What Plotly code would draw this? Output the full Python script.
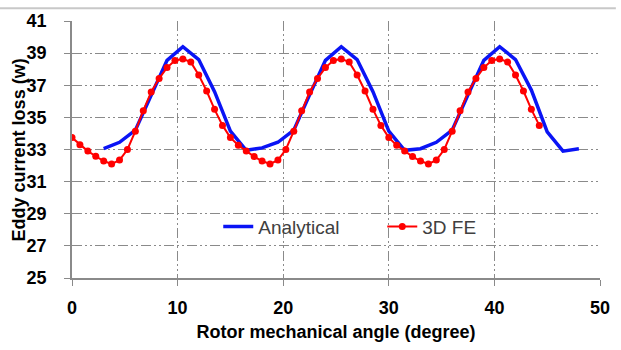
import plotly.graph_objects as go

# ---- data ----
fe_angle = [i * 0.75 for i in range(60)]
fe_loss = [
    33.74, 33.30, 32.90, 32.58, 32.28, 32.10, 32.34, 33.00, 34.14, 35.42,
    36.58, 37.42, 38.10, 38.54, 38.64, 38.44, 37.64, 36.64, 35.50, 34.50,
    33.74, 33.26, 32.90, 32.56, 32.28, 32.10, 32.34, 33.00, 34.14, 35.42,
    36.58, 37.42, 38.10, 38.54, 38.64, 38.44, 37.64, 36.64, 35.50, 34.50,
    33.74, 33.26, 32.90, 32.56, 32.28, 32.10, 32.34, 33.00, 34.14, 35.42,
    36.58, 37.42, 38.10, 38.54, 38.64, 38.44, 37.64, 36.64, 35.50, 34.50,
]
an_angle = [3 + i * 1.5 for i in range(31)]
an_loss = [
    33.05, 33.45, 34.20, 36.40, 38.55, 39.40, 38.60, 36.60, 34.15, 32.95,
    33.10, 33.45, 34.20, 36.40, 38.55, 39.40, 38.60, 36.60, 34.15, 32.95,
    33.05, 33.45, 34.20, 36.40, 38.55, 39.40, 38.60, 36.70, 34.10, 32.90,
    33.05,
]
x_ticks = [0, 10, 20, 30, 40, 50]
y_ticks = [25, 27, 29, 31, 33, 35, 37, 39, 41]

FONT = "Liberation Sans, Arial, sans-serif"
GRID = "#8a8a8a"
DASH = "10px,3px,2px,3px,2px,3px"

fig = go.Figure()
fig.add_trace(go.Scatter(
    x=an_angle, y=an_loss, mode="lines", name="Analytical",
    line=dict(color="#0a14f5", width=3.5),
))
fig.add_trace(go.Scatter(
    x=fe_angle, y=fe_loss, mode="lines+markers", name="3D FE",
    line=dict(color="#ff0000", width=2),
    marker=dict(color="#ff0000", size=7),
))

fig.update_layout(
    width=621, height=350,
    margin=dict(l=72, r=11, t=14, b=72),
    paper_bgcolor="white", plot_bgcolor="white",
    font=dict(family=FONT, color="#000000"),
    showlegend=True,
    legend=dict(
        orientation="h", x=0.277, xanchor="left", y=0.2, yanchor="middle",
        bgcolor="rgba(0,0,0,0)", entrywidth=119,
        font=dict(size=19, color="#404040", family=FONT),
    ),
    xaxis=dict(
        range=[0, 50], tickvals=x_ticks, showgrid=True, gridcolor=GRID,
        griddash=DASH, gridwidth=1, zeroline=False,
        showline=True, linecolor=GRID, linewidth=1.5,
        ticks="outside", ticklen=6, tickcolor=GRID, ticklabelstandoff=7,
        tickfont=dict(size=18, family=FONT, color="#000000", weight="bold"),
        title=dict(text="<b>Rotor mechanical angle (degree)</b>",
                   font=dict(size=18, family=FONT), standoff=8),
    ),
    yaxis=dict(
        range=[25, 41], tickvals=y_ticks, showgrid=True, gridcolor=GRID,
        griddash=DASH, gridwidth=1, zeroline=False,
        showline=True, linecolor=GRID, linewidth=1.5,
        ticks="outside", ticklen=6, tickcolor=GRID, ticklabelstandoff=14,
        tickfont=dict(size=18, family=FONT, color="#000000", weight="bold"),
    ),
    annotations=[dict(
        text="<b>Eddy current loss (w)</b>", textangle=-90,
        xref="paper", yref="paper", x=(18 - 72) / 537, y=0.5,
        xanchor="center", yanchor="middle", showarrow=False,
        font=dict(size=18, family=FONT, color="#000000"),
    )],
    shapes=[dict(type="line", xref="paper", yref="paper",
                 x0=-0.14, x1=1.03, y0=1.05, y1=1.05,
                 line=dict(color="#c8c8c8", width=2))],
)

fig.write_html("out.html")
